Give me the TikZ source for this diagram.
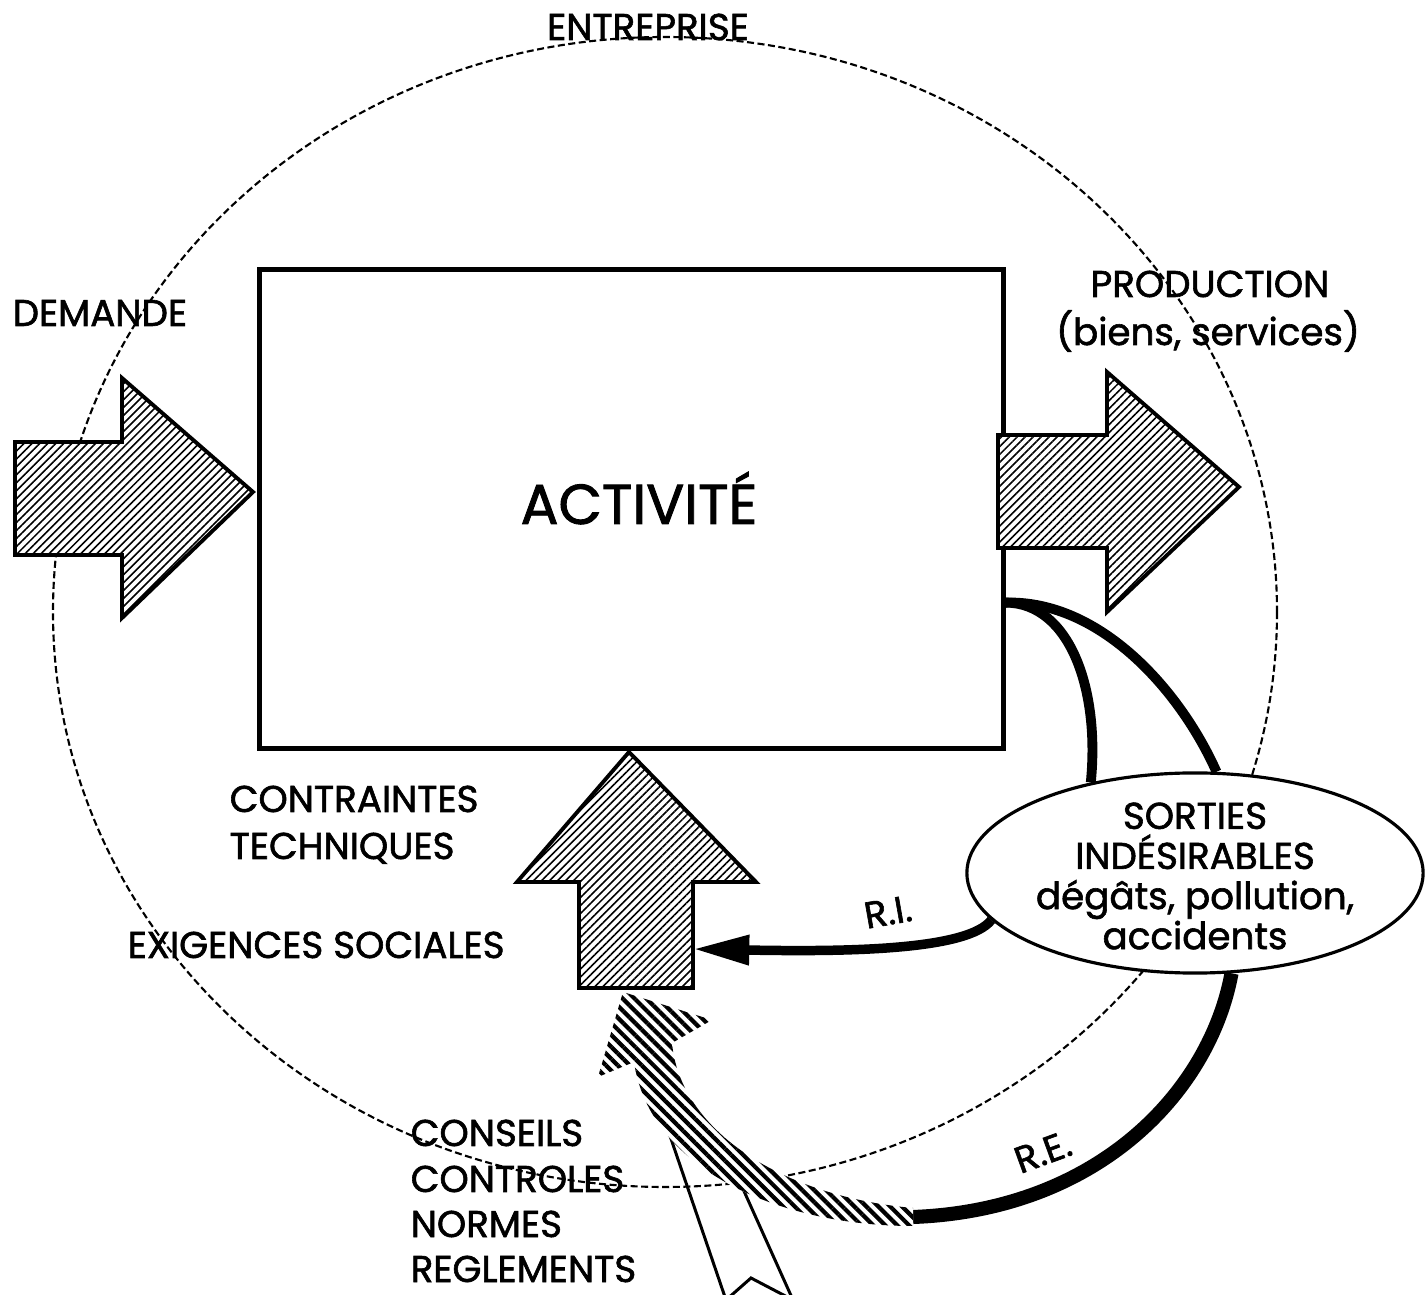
\documentclass[tikz,border=0pt]{standalone}
\usepackage{fontspec}
\setmainfont{Poppins}[FakeBold=1.6]
\usetikzlibrary{calc,arrows.meta,patterns.meta,shapes.geometric}

\tikzset{
	txt/.style={font=\fontsize{10.6}{13}\selectfont, inner sep=0pt},
	bigtxt/.style={font=\fontsize{16}{18}\selectfont, inner sep=0pt},
	hatch/.style={pattern={Lines[angle=45,distance=1.6pt,line width=0.45pt]}},
	hatchdark/.style={pattern={Lines[angle=-45,distance=2.4pt,line width=1.2pt]}},
	bigarrow/.style={draw, line width=1.1pt, preaction={fill=white}, hatch},
	loopline/.style={line width=2.8pt},
	riline/.style={line width=2.7pt, -{Triangle[length=16pt,width=8pt]}},
}

\begin{document}
\begin{tikzpicture}[x=0.01cm, y=-0.01cm]
			%%%%% START %%%%%
			\useasboundingbox (0,0) rectangle (1427,1295);
			
			\draw[line width=0.85pt] (668,1130) -- (726,1300) -- (751,1278) -- (793,1300) -- (730,1160);
			
			\draw[line width=0.6pt, dash pattern=on 2pt off 1pt] (665,612) ellipse (612 and 575);
			\node[txt, anchor=base] (entreprise) at (648,40) {ENTREPRISE};
			
			\node[draw, line width=1.4pt, minimum width=7.43cm, minimum height=4.78cm, inner sep=0pt] (activite) at (631.5,509) {};
			\node[bigtxt, anchor=base] (activitetxt) at (639,524) {ACTIVITÉ};
			\coordinate (actout) at ($(activite.south east)+(0,-148)$);
			
			\draw[bigarrow] (15,442) -- (122,442) -- (122,378) -- (253,492) -- (122,618) -- (122,555) -- (15,555) -- cycle;
			\draw[bigarrow] (998,435) -- (1107,435) -- (1107,372) -- (1239,487) -- (1107,612) -- (1107,548) -- (998,548) -- cycle;
			\draw[bigarrow] (579,988) -- (579,882) -- (517,882) -- (629,752) -- (756,882) -- (693,882) -- (693,988) -- cycle;
			\coordinate (upin) at (693,949);
			
			\node[ellipse, draw, line width=0.9pt, fill=white, minimum width=4.56cm, minimum height=2cm, inner sep=0pt] (sorties) at (1195,873) {};
			\node[txt, align=center, font=\fontsize{10.6}{11.4}\selectfont] (sortiestxt) at (1195,876) {SORTIES\\INDÉSIRABLES\\dégâts, pollution,\\accidents};
			
			\draw[loopline] (actout) .. controls (1070,603) and (1100,690) .. (sorties.139);
			\draw[loopline] (actout) .. controls (1100,600) and (1180,690) .. (sorties.78);
			
			\draw[riline] (sorties.193) .. controls (968,950) and (850,952) .. (upin);
			\node[txt, rotate=10] (ri) at (888,912) {R.I.};
			
			\coordinate (rebend) at (913,1217);
			\draw[line width=4pt] (sorties.290) .. controls (1210,1090) and (1100,1210) .. (rebend);
			\node[txt, rotate=20] (re) at (1043,1152) {R.E.};
			\fill[white] (913,1208) .. controls (780,1196) and (680,1130) .. (672,1043) -- (712,1020) -- (623,992) -- (598,1077) -- (634,1062) .. controls (650,1170) and (780,1226) .. (913,1226) -- cycle;
			\fill[hatchdark] (913,1208) .. controls (780,1196) and (680,1130) .. (672,1043) -- (712,1020) -- (623,992) -- (598,1077) -- (634,1062) .. controls (650,1170) and (780,1226) .. (913,1226) -- cycle;
			
			\node[txt, anchor=base west] (demande) at (12,326) {DEMANDE};
			\node[txt, anchor=base] (production) at (1210,297) {PRODUCTION};
			\node[txt, anchor=base] (biens) at (1208,345) {(biens, services)};
			
			\node[txt, anchor=base west] (contraintes) at (229,812) {CONTRAINTES};
			\node[txt, anchor=base west] (techniques) at (229,859) {TECHNIQUES};
			\node[txt, anchor=base west] (exigences) at (127,958) {EXIGENCES SOCIALES};
			
			\node[txt, anchor=base west] (conseils) at (410,1146) {CONSEILS};
			\node[txt, anchor=base west] (controles) at (410,1192) {CONTROLES};
			\node[txt, anchor=base west] (normes) at (410,1237) {NORMES};
			\node[txt, anchor=base west] (reglements) at (410,1282) {REGLEMENTS};
			
			%%%%% END %%%%%
\end{tikzpicture}
\end{document}
